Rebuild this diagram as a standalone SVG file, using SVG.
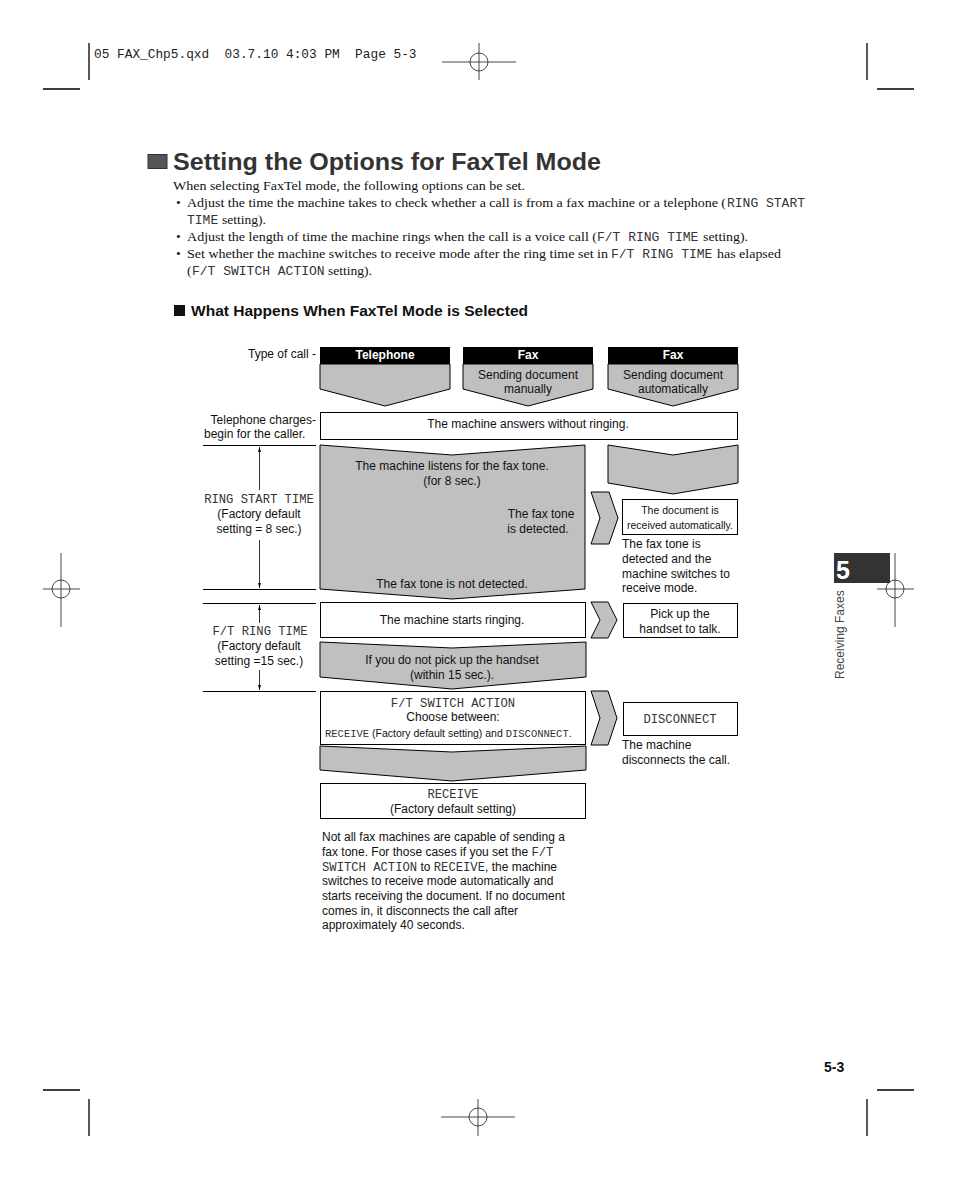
<svg xmlns="http://www.w3.org/2000/svg" width="954" height="1177" viewBox="0 0 954 1177">
<style>
.s{font-family:"Liberation Sans",Arial,sans-serif;font-size:12px;fill:#111}
.sm{font-family:"Liberation Sans",Arial,sans-serif;font-size:10.5px;fill:#111}
.m{font-family:"Liberation Mono","Courier New",monospace;font-size:12.2px;fill:#333}
.ms{font-family:"Liberation Mono","Courier New",monospace;font-size:10.5px;fill:#333}
.r{font-family:"Liberation Serif","Times New Roman",serif;font-size:13.5px;fill:#111}
.rm{font-family:"Liberation Mono","Courier New",monospace;font-size:13px;fill:#333}
.c{text-anchor:middle}
.e{text-anchor:end}
.g{fill:#c0c0c0;stroke:#000;stroke-width:1}
.w{fill:#fff;stroke:#000;stroke-width:1}
.crop{stroke:#000;stroke-width:1.3;fill:none}
.reg{stroke:#333;stroke-width:0.9;fill:none}
.rule{stroke:#000;stroke-width:1;fill:none}
.dim{stroke:#000;stroke-width:0.8;fill:none}
.hd{fill:#000}
.hdt{font-family:"Liberation Sans",Arial,sans-serif;font-size:12px;font-weight:bold;fill:#fff;text-anchor:middle}
</style>
<defs>
<marker id="ah" markerWidth="6" markerHeight="6" refX="5" refY="3" orient="auto" markerUnits="userSpaceOnUse">
<path d="M0,1.5 L5,3 L0,4.5 Z" fill="#000"/>
</marker>
</defs>
<rect width="954" height="1177" fill="#fff"/>

<g id="printer-marks">
<path class="crop" d="M89,43 V80 M43,89 H80 M867,43 V80 M877,89 H914 M43,1090 H80 M89,1099 V1136 M877,1090 H914 M867,1099 V1136"/>
<g class="reg">
<circle cx="479" cy="62" r="9"/><path d="M442,62 H516 M479,43 V80"/>
<circle cx="478" cy="1117" r="9"/><path d="M441,1117 H515 M478,1099 V1136"/>
<circle cx="61" cy="589" r="9"/><path d="M43,589 H80 M61,553 V627"/>
<circle cx="895" cy="589" r="9"/><path d="M877,589 H914 M895,553 V627"/>
</g>
<text x="94" y="58" xml:space="preserve" style="font-family:'Liberation Mono','Courier New',monospace;font-size:12.8px;fill:#222">05 FAX_Chp5.qxd  03.7.10 4:03 PM  Page 5-3</text>
</g>

<g id="title">
<rect x="148" y="154.5" width="19" height="14" fill="#555" stroke="#333" stroke-width="1"/>
<text x="173" y="170" textLength="428" lengthAdjust="spacingAndGlyphs" style="font-family:'Liberation Sans',Arial,sans-serif;font-size:24px;font-weight:bold;fill:#333">Setting the Options for FaxTel Mode</text>
</g>

<g id="intro">
<text class="r" x="173" y="190" textLength="352" lengthAdjust="spacingAndGlyphs">When selecting FaxTel mode, the following options can be set.</text>
<text class="r" x="176" y="207">•</text>
<text class="r" x="187" y="207" textLength="539" lengthAdjust="spacingAndGlyphs">Adjust the time the machine takes to check whether a call is from a fax machine or a telephone (</text>
<text class="rm" x="727" y="207">RING START</text>
<text class="rm" x="187" y="224">TIME</text>
<text class="r" x="222" y="224" textLength="44" lengthAdjust="spacingAndGlyphs">setting).</text>
<text class="r" x="176" y="241">•</text>
<text class="r" x="187" y="241" textLength="410" lengthAdjust="spacingAndGlyphs">Adjust the length of time the machine rings when the call is a voice call (</text>
<text class="rm" x="597" y="241">F/T RING TIME</text>
<text class="r" x="703" y="241" textLength="45" lengthAdjust="spacingAndGlyphs">setting).</text>
<text class="r" x="176" y="258">•</text>
<text class="r" x="187" y="258" textLength="421" lengthAdjust="spacingAndGlyphs">Set whether the machine switches to receive mode after the ring time set in</text>
<text class="rm" x="611" y="258">F/T RING TIME</text>
<text class="r" x="717" y="258" textLength="64" lengthAdjust="spacingAndGlyphs">has elapsed</text>
<text class="r" x="187" y="275">(</text>
<text class="rm" x="192" y="275">F/T SWITCH ACTION</text>
<text class="r" x="328" y="275" textLength="44" lengthAdjust="spacingAndGlyphs">setting).</text>
</g>

<g id="subheading">
<rect x="174" y="305" width="11" height="11" fill="#111"/>
<text x="191" y="316" textLength="337" lengthAdjust="spacingAndGlyphs" style="font-family:'Liberation Sans',Arial,sans-serif;font-size:14px;font-weight:bold;fill:#111">What Happens When FaxTel Mode is Selected</text>
</g>

<g id="left-labels">
<text class="s e" x="316" y="358">Type of call -</text>
<text class="s e" x="316" y="424">Telephone charges-</text>
<text class="s" x="204" y="438">begin for the caller.</text>
<path class="rule" d="M203,445.5 H316 M203,589.5 H316 M203,603.5 H316 M203,691.5 H316"/>
<text class="m c" x="259" y="503">RING START TIME</text>
<text class="s c" x="259" y="518">(Factory default</text>
<text class="s c" x="259" y="533">setting = 8 sec.)</text>
<text class="m c" x="260" y="635">F/T RING TIME</text>
<text class="s c" x="259" y="650">(Factory default</text>
<text class="s c" x="259" y="665">setting =15 sec.)</text>
</g>

<g id="connectors">
<line class="dim" x1="259.5" y1="490" x2="259.5" y2="447" marker-end="url(#ah)"/>
<line class="dim" x1="259.5" y1="540" x2="259.5" y2="588" marker-end="url(#ah)"/>
<line class="dim" x1="259.5" y1="623" x2="259.5" y2="605" marker-end="url(#ah)"/>
<line class="dim" x1="259.5" y1="670" x2="259.5" y2="690" marker-end="url(#ah)"/>
<path class="g" d="M591,492 H609 L618,518 L609,544 H591 L600,518 Z"/>
<path class="g" d="M591,602 H608 L617,620 L608,638 H591 L600,620 Z"/>
<path class="g" d="M591,691 H608 L617,718 L608,745 H591 L600,718 Z"/>
</g>

<g id="col-telephone">
<rect class="hd" x="320" y="347" width="130" height="17"/>
<text class="hdt" x="385" y="359">Telephone</text>
<path class="g" d="M320,364 H450 V389 L385,406 L320,389 Z"/>
</g>
<g id="col-fax-manual">
<rect class="hd" x="463" y="347" width="130" height="17"/>
<text class="hdt" x="528" y="359">Fax</text>
<path class="g" d="M463,364 H593 V389 L528,406 L463,389 Z"/>
<text class="s c" x="528" y="379">Sending document</text>
<text class="s c" x="528" y="393">manually</text>
</g>
<g id="col-fax-auto">
<rect class="hd" x="608" y="347" width="130" height="17"/>
<text class="hdt" x="673" y="359">Fax</text>
<path class="g" d="M608,364 H738 V389 L673,406 L608,389 Z"/>
<text class="s c" x="673" y="379">Sending document</text>
<text class="s c" x="673" y="393">automatically</text>
</g>

<g id="answers">
<rect class="w" x="320.5" y="412.5" width="417" height="27"/>
<text class="s c" x="528" y="428">The machine answers without ringing.</text>
</g>

<g id="listens">
<path class="g" d="M320,445 L452,455 L585,445 V589 L452,599 L320,589 Z"/>
<text class="s c" x="452" y="470">The machine listens for the fax tone.</text>
<text class="s c" x="452" y="485">(for 8 sec.)</text>
<text class="s c" x="541" y="518">The fax tone</text>
<text class="s c" x="538" y="533">is detected.</text>
<text class="s c" x="452" y="588">The fax tone is not detected.</text>
</g>

<g id="auto-flow">
<path class="g" d="M608,445 L673,455 L738,445 V483 L673,494 L608,483 Z"/>
</g>

<g id="received">
<rect class="w" x="622.5" y="499.5" width="115" height="35"/>
<text class="sm c" x="680" y="514">The document is</text>
<text class="sm c" x="680" y="529">received automatically.</text>
<text class="s" x="622" y="548">The fax tone is</text>
<text class="s" x="622" y="563">detected and the</text>
<text class="s" x="622" y="578">machine switches to</text>
<text class="s" x="622" y="592">receive mode.</text>
</g>

<g id="ringing">
<rect class="w" x="320.5" y="602.5" width="265" height="35"/>
<text class="s c" x="452" y="624">The machine starts ringing.</text>
</g>

<g id="pickup">
<rect class="w" x="623.5" y="603.5" width="114" height="34"/>
<text class="s c" x="680" y="618">Pick up the</text>
<text class="s c" x="680" y="633">handset to talk.</text>
</g>

<g id="no-pickup">
<path class="g" d="M320,642 L452,648 L586,642 V677 L452,689 L320,677 Z"/>
<text class="s c" x="452" y="664">If you do not pick up the handset</text>
<text class="s c" x="452" y="679">(within 15 sec.).</text>
</g>

<g id="switch-action">
<rect class="w" x="320.5" y="691.5" width="265" height="53"/>
<text class="m c" x="453" y="707">F/T SWITCH ACTION</text>
<text class="s c" x="453" y="721">Choose between:</text>
<text x="325" y="737"><tspan class="ms">RECEIVE</tspan><tspan class="sm"> (Factory default setting) and </tspan><tspan class="ms">DISCONNECT</tspan><tspan class="sm">.</tspan></text>
</g>

<g id="disconnect">
<rect class="w" x="623.5" y="702.5" width="114" height="33"/>
<text class="m c" x="680" y="723">DISCONNECT</text>
<text class="s" x="622" y="749">The machine</text>
<text class="s" x="622" y="764">disconnects the call.</text>
</g>

<g id="to-receive">
<path class="g" d="M320,746 L452,752 L586,746 V770 L452,781 L320,770 Z"/>
</g>

<g id="receive">
<rect class="w" x="320.5" y="783.5" width="265" height="35"/>
<text class="m c" x="453" y="798">RECEIVE</text>
<text class="s c" x="453" y="813">(Factory default setting)</text>
</g>

<g id="note">
<text class="s" x="322" y="841">Not all fax machines are capable of sending a</text>
<text x="322" y="856"><tspan class="s">fax tone. For those cases if you set the </tspan><tspan class="m">F/T</tspan></text>
<text x="322" y="871"><tspan class="m">SWITCH ACTION</tspan><tspan class="s"> to </tspan><tspan class="m">RECEIVE</tspan><tspan class="s">, the machine</tspan></text>
<text class="s" x="322" y="885">switches to receive mode automatically and</text>
<text class="s" x="322" y="900">starts receiving the document. If no document</text>
<text class="s" x="322" y="915">comes in, it disconnects the call after</text>
<text class="s" x="322" y="929">approximately 40 seconds.</text>
</g>

<g id="tab">
<rect x="834" y="553" width="56" height="30" fill="#333"/>
<text x="836" y="579" style="font-family:'Liberation Sans',Arial,sans-serif;font-size:25px;font-weight:bold;fill:#fff">5</text>
<text x="844" y="679" transform="rotate(-90 844 679)" style="font-family:'Liberation Sans',Arial,sans-serif;font-size:12px;fill:#444">Receiving Faxes</text>
</g>

<g id="folio">
<text x="824" y="1072" style="font-family:'Liberation Sans',Arial,sans-serif;font-size:14px;font-weight:bold;fill:#111">5-3</text>
</g>
</svg>
